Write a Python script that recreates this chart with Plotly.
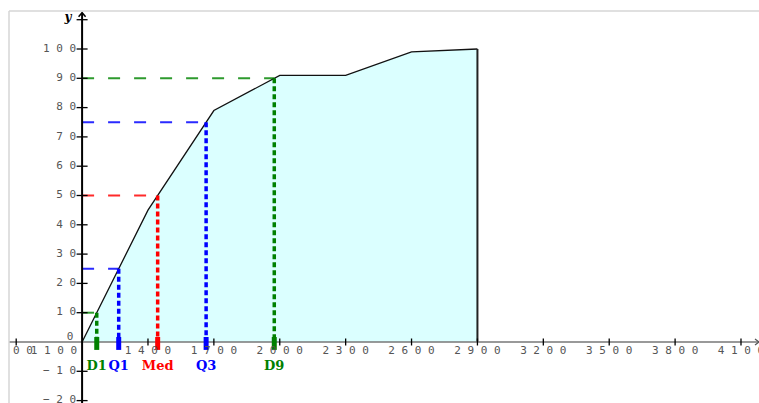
import plotly.graph_objects as go

# ---- data ----
x_vals = [1100, 1400, 1700, 2000, 2300, 2600, 2900]
cum_freq = [0, 45, 79, 91, 91, 99, 100]

q_names = ["D1", "Q1", "Med", "Q3", "D9"]
q_levels = [10, 25, 50, 75, 90]
q_values = [1166.7, 1266.7, 1444.1, 1664.7, 1975.0]
q_colors = ["#008000", "#0000ff", "#ff0000", "#0000ff", "#008000"]
q_hcolors = ["#2e9a2e", "#2a2aff", "#ff2a2a", "#2a2aff", "#2e9a2e"]

x_ticks = [800, 1400, 1700, 2000, 2300, 2600, 2900, 3200, 3500, 3800, 4100]
y_ticks = [-20, -10, 10, 20, 30, 40, 50, 60, 70, 80, 90, 100, 110]
y_tick_labels = ["\u2212 2 0", "\u2212 1 0", "1 0", "2 0", "3 0", "4 0", "5 0",
                 "6 0", "7 0", "8 0", "9 0", "1 0 0", ""]

X0 = 1100  # y-axis position
# plot area spans pixels x 9..759, y 11..403
XR = [767.2, 4182.0]
YR = [-20.82, 112.97]
px_x = (XR[1] - XR[0]) / 750.0
px_y = (YR[1] - YR[0]) / 392.0

fig = go.Figure()

# filled region under the polygon
fig.add_trace(go.Scatter(
    x=x_vals + [x_vals[-1], x_vals[0]],
    y=cum_freq + [0, 0],
    fill="toself", fillcolor="#dbffff", mode="lines",
    line=dict(width=0), hoverinfo="skip"))

# horizontal dashed guides
for q, xv, c in zip(q_levels, q_values, q_hcolors):
    fig.add_trace(go.Scatter(x=[X0, xv], y=[q, q], mode="lines",
                             line=dict(color=c, width=2, dash="12px,14px"),
                             hoverinfo="skip"))

# polygon curve
fig.add_trace(go.Scatter(x=x_vals, y=cum_freq, mode="lines",
                         line=dict(color="#111111", width=1.3), hoverinfo="skip"))
fig.add_trace(go.Scatter(x=[x_vals[-1], x_vals[-1]], y=[cum_freq[-1], 0], mode="lines",
                         line=dict(color="#222222", width=2), hoverinfo="skip"))

# vertical dotted lines
for q, xv, c in zip(q_levels, q_values, q_colors):
    fig.add_trace(go.Scatter(x=[xv, xv], y=[q, 0], mode="lines",
                             line=dict(color=c, width=3.5, dash="5px,3px"),
                             hoverinfo="skip"))

# x axis line
fig.add_trace(go.Scatter(x=[XR[0], XR[1]], y=[0, 0], mode="lines",
                         line=dict(color="#777777", width=1.5), hoverinfo="skip"))

# thick marks at the axis
for xv, c in zip(q_values, q_colors):
    fig.add_trace(go.Scatter(x=[xv, xv], y=[1.7, -2.7], mode="lines",
                             line=dict(color=c, width=5), hoverinfo="skip"))

# y axis line
y_top = 112.4
fig.add_trace(go.Scatter(x=[X0, X0], y=[YR[0], y_top], mode="lines",
                         line=dict(color="#000000", width=2), hoverinfo="skip"))
fig.add_trace(go.Scatter(x=[X0 - 3.5 * px_x, X0, X0 + 3.5 * px_x],
                         y=[y_top - 4 * px_y, y_top, y_top - 4 * px_y], mode="lines",
                         line=dict(color="#000000", width=1.5), hoverinfo="skip"))
# x axis arrow
fig.add_trace(go.Scatter(x=[XR[1] - 4 * px_x, XR[1], XR[1] - 4 * px_x],
                         y=[3 * px_y, 0, -3 * px_y], mode="lines",
                         line=dict(color="#555555", width=1.2), hoverinfo="skip"))

# tick marks
tx, ty = [], []
for t in x_ticks:
    tx += [t, t, None]
    ty += [3.5 * px_y, -3.5 * px_y, None]
fig.add_trace(go.Scatter(x=tx, y=ty, mode="lines",
                         line=dict(color="#000000", width=1.3), hoverinfo="skip"))
tx, ty = [], []
for t in y_ticks:
    tx += [X0 - 5.5 * px_x, X0 + 5.5 * px_x, None]
    ty += [t, t, None]
fig.add_trace(go.Scatter(x=tx, y=ty, mode="lines",
                         line=dict(color="#000000", width=1.3), hoverinfo="skip"))

# tick labels as text traces (clipped to the graphics view)
tick_font = dict(family="DejaVu Sans Mono", size=11, color="#555555")
fig.add_trace(go.Scatter(
    x=x_ticks, y=[-9.5 * px_y] * len(x_ticks),
    text=[" ".join(str(t)) for t in x_ticks], mode="text",
    textposition="middle center", textfont=tick_font, hoverinfo="skip"))
fig.add_trace(go.Scatter(
    x=[X0 - 5 * px_x], y=[-9.5 * px_y], text=["1 1 0 0"], mode="text",
    textposition="middle left", textfont=tick_font, hoverinfo="skip"))
fig.add_trace(go.Scatter(
    x=[X0 - 6 * px_x] * len(y_ticks), y=y_ticks, text=y_tick_labels, mode="text",
    textposition="middle left", textfont=tick_font, hoverinfo="skip"))
fig.add_trace(go.Scatter(
    x=[X0 - 12 * px_x], y=[4.5 * px_y], text=["0"], mode="text",
    textposition="middle center", textfont=tick_font, hoverinfo="skip"))
fig.add_trace(go.Scatter(
    x=[X0 - 14 * px_x], y=[110 + 1.5 * px_y], text=["<b><i>y</i></b>"], mode="text",
    textposition="middle center",
    textfont=dict(family="DejaVu Serif", size=12, color="#000000"), hoverinfo="skip"))

# quantile labels
fig.add_trace(go.Scatter(
    x=q_values, y=[-24.5 * px_y] * len(q_values),
    text=["<b>" + n + "</b>" for n in q_names], mode="text",
    textposition="middle center",
    textfont=dict(family="DejaVu Serif", size=13, color=q_colors), hoverinfo="skip"))

fig.update_layout(
    width=759, height=403,
    margin=dict(l=9, r=0, t=11, b=0),
    paper_bgcolor="white", plot_bgcolor="white",
    showlegend=False,
    xaxis=dict(range=XR, visible=False, fixedrange=True),
    yaxis=dict(range=YR, visible=False, fixedrange=True),
    shapes=[
        dict(type="line", xref="paper", yref="paper", x0=0, x1=1.0,
             y0=1, y1=1, line=dict(color="#d6d6d6", width=1.5)),
        dict(type="line", xref="paper", yref="paper", x0=0, x1=0,
             y0=0, y1=1, line=dict(color="#d6d6d6", width=1.5)),
    ],
)

fig.write_html("out.html", config={"displayModeBar": False},
               post_script="document.body.style.margin='0';document.body.style.overflow='hidden';")
